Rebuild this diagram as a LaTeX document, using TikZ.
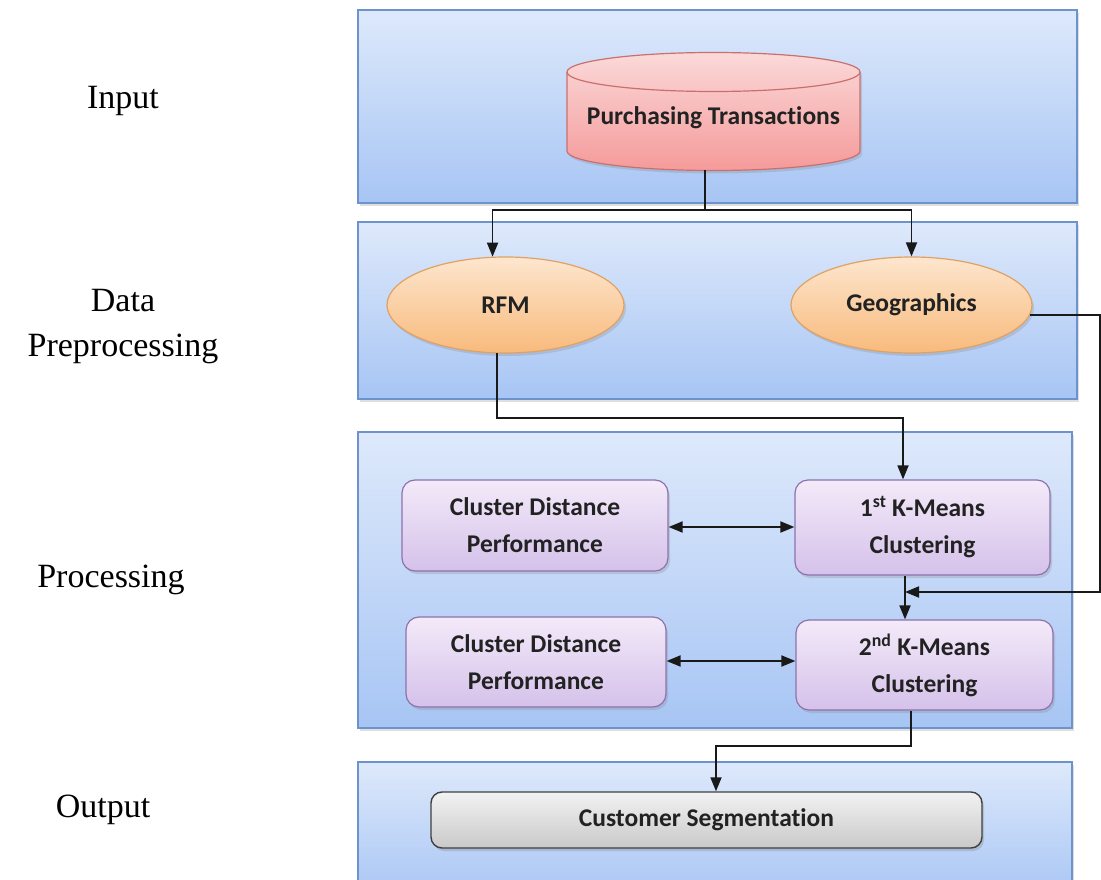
\documentclass[tikz,border=0pt]{standalone}
\usepackage{fontspec}
\setmainfont{Liberation Serif}
\newfontfamily\boxfont[Ligatures=CommonOff]{Carlito}
\usetikzlibrary{shapes.geometric,arrows.meta,shadows}
\definecolor{panelTop}{HTML}{DEE9FB}
\definecolor{panelBot}{HTML}{A7C5F4}
\definecolor{panelEdge}{HTML}{6C93CC}
\definecolor{cylTop}{HTML}{FBD9D9}
\definecolor{cylBot}{HTML}{F59A9A}
\definecolor{cylEdge}{HTML}{C9706E}
\definecolor{ovTop}{HTML}{FDE6CE}
\definecolor{ovBot}{HTML}{F8BA7C}
\definecolor{ovEdge}{HTML}{E0A263}
\definecolor{puTop}{HTML}{F3EAF9}
\definecolor{puBot}{HTML}{D5C1EA}
\definecolor{puEdge}{HTML}{8E72AC}
\definecolor{grTop}{HTML}{F2F2F2}
\definecolor{grBot}{HTML}{C9C9C9}
\definecolor{grEdge}{HTML}{3F3F3F}
\definecolor{txt}{HTML}{222222}
\begin{document}
\begin{tikzpicture}[x=1pt,y=-1pt,
  panel/.style={top color=panelTop,bottom color=panelBot,draw=panelEdge,line width=1.3pt,
    drop shadow={opacity=0.25,shadow xshift=2pt,shadow yshift=-3pt}},
  lbl/.style={font=\fontsize{34}{45}\selectfont,align=center,text=black},
  btxt/.style={font=\boxfont\bfseries\fontsize{25.5}{37}\selectfont,text=txt,align=center},
  oval/.style={btxt,ellipse,inner sep=0pt,top color=ovTop,bottom color=ovBot,draw=ovEdge,line width=1.2pt,
    drop shadow={opacity=0.25,shadow xshift=2pt,shadow yshift=-3pt}},
  pbox/.style={btxt,rectangle,rounded corners=13pt,inner sep=0pt,top color=puTop,bottom color=puBot,draw=puEdge,line width=1.2pt,
    drop shadow={opacity=0.25,shadow xshift=2pt,shadow yshift=-3pt}},
  gbox/.style={btxt,rectangle,rounded corners=11pt,inner sep=0pt,top color=grTop,bottom color=grBot,draw=grEdge,line width=1.4pt,
    drop shadow={opacity=0.3,shadow xshift=2pt,shadow yshift=-3pt}},
  conn/.style={draw=black!90,line width=1.8pt},
  arr/.style={conn,-{Triangle[length=14pt,width=11pt]}},
  darr/.style={conn,{Triangle[length=14pt,width=11pt]}-{Triangle[length=14pt,width=11pt]}}]
\clip (0,0) rectangle (1101,880);
\fill[white] (0,0) rectangle (1101,880);

% panels
\path[panel] (358,10) rectangle (1077,203);
\path[panel] (358,222) rectangle (1077,399);
\path[panel] (358,432) rectangle (1072,728);
\path[panel] (358,762) rectangle (1072,900);

% left labels
\node[lbl] (lin) at (123,101) {Input};
\node[lbl] (ldp) at (123,327) {Data\\Preprocessing};
\node[lbl] (lpr) at (111,580) {Processing};
\node[lbl] (lout) at (103,810) {Output};

% cylinder
\path[top color=cylTop,bottom color=cylBot,draw=cylEdge,line width=1.2pt,
  drop shadow={opacity=0.25,shadow xshift=2pt,shadow yshift=-3pt}]
  (567,72) -- (567,151) arc[start angle=180,end angle=360,x radius=146.5pt,y radius=19.5pt]
  -- (860,72) arc[start angle=0,end angle=180,x radius=146.5pt,y radius=19.5pt] -- cycle;
\draw[draw=cylEdge,line width=1.2pt] (567,72) arc[start angle=180,end angle=360,x radius=146.5pt,y radius=19.5pt];
\node[btxt] (pt) at (713.5,118) {Purchasing Transactions};
\coordinate (ptb) at (705,170.5);

% preprocessing
\node[oval,minimum width=237pt,minimum height=96pt] (rfm) at (505.5,305) {RFM};
\node[oval,minimum width=241pt,minimum height=96pt] (geo) at (911.5,305) {Geographics};

% processing
\node[pbox,minimum width=266pt,minimum height=91pt] (cd1) at (535,525.5) {Cluster Distance\\Performance};
\node[pbox,minimum width=255pt,minimum height=95pt] (km1) at (922.5,527.5) {1\textsuperscript{st} K-Means\\Clustering};
\node[pbox,minimum width=260pt,minimum height=90pt] (cd2) at (536,662) {Cluster Distance\\Performance};
\node[pbox,minimum width=257pt,minimum height=90pt] (km2) at (924.5,665) {2\textsuperscript{nd} K-Means\\Clustering};

% output
\node[gbox,minimum width=551pt,minimum height=56pt] (cs) at (706.5,820) {Customer Segmentation};

% connectors
\coordinate (split) at (705,210);
\draw[conn] (ptb) -- (split);
\draw[arr] (split) -| (rfm.105);
\draw[arr] (split) -| (geo.north);

\coordinate (b1) at (903,418);
\draw[arr] (rfm.260) |- (b1) -- (b1 |- km1.north);

\draw[darr] (cd1.east |- 0,527) -- (km1.west |- 0,527);
\draw[darr] (cd2.east |- 0,661) -- (km2.west |- 0,661);

\coordinate (v2) at (905,592);
\coordinate (re) at (1100,592);
\draw[arr] (v2 |- km1.south) -- (v2 |- km2.north);
\draw[arr] (geo.-5) -| (re) -- (v2);

\coordinate (b2) at (911,746);
\coordinate (b3) at (716,746);
\draw[arr] (b2 |- km2.south) -- (b2) -- (b3) -- (b3 |- cs.north);
\end{tikzpicture}
\end{document}
